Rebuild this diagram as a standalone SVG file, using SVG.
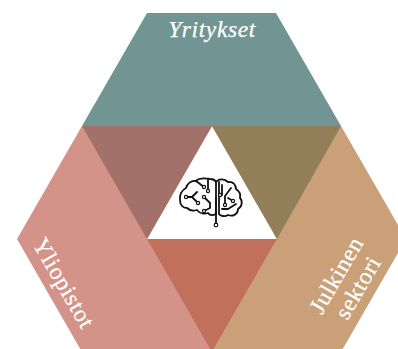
<svg xmlns="http://www.w3.org/2000/svg" width="398" height="349" viewBox="0 0 398 349">
<style>
.lbl{font-family:"Liberation Serif","DejaVu Serif",serif;fill:#fff;stroke:#fff;stroke-width:.25;font-size:23.5px;text-anchor:middle;letter-spacing:.6px}
.b{fill:none;stroke:#111;stroke-width:1.8;stroke-linecap:round;stroke-linejoin:round}
.d{fill:#fff;stroke:#111;stroke-width:1.2}
</style>
<rect width="398" height="349" fill="#fff"/>
<g id="yritykset">
<polygon points="147,13 276,13 341,126 82,126" fill="#709593"/>
</g>
<g id="yliopistot">
<polygon points="82,126 212,126 147,239 277,239 212,352 82,352 17,239" fill="#d39389"/>
</g>
<g id="julkinen-sektori">
<polygon points="212,126 341,126 406,239 341,352 212,352 277,239" fill="#c9a077"/>
</g>
<g id="overlaps">
<polygon points="82,126 212,126 147,239" fill="#a2716a"/>
<polygon points="212,126 341,126 277,239" fill="#927f59"/>
<polygon points="147,239 277,239 212,352" fill="#c1705b"/>
</g>
<g id="labels">
<text class="lbl" x="212" y="37" font-style="italic">Yritykset</text>
<text class="lbl" transform="translate(57,287) rotate(60)">Yliopistot</text>
<text class="lbl" transform="translate(343,279) rotate(-60)"><tspan x="0" y="0">Julkinen</tspan><tspan x="0" y="25">sektori</tspan></text>
</g>
<g id="aivot">
<path class="b" d="M210,179C204,178 199,178 196,181C191,180 187,184 186,188C182,190 179,195 180,200C180,205 183,208 187,208C190,211 194,211 197,210C200,214 205,214 208,213C210,216 214,215 216,214L216,182C215,180 213,179 210,179Z"/>
<path class="b" d="M216,182C219,178 225,179 228,182C233,181 236,185 236,189C239,191 241,194 240,198C243,201 242,207 238,209C238,214 233,217 228,215C225,217 220,216 219,214L219,182"/>
<path class="b" d="M216,224L216,198M186,197L192,197L197,192M192,197L198,203M196,181L204,187M208,180L208,190M210,203L210,208L204,211M204,197L210,203M222,185L222,195M231,188L225,196L225,205M228,198L233,201M236,204L228,209L222,209"/>
<circle class="d" cx="186" cy="197" r="1.6"/><circle class="d" cx="198" cy="203" r="1.6"/><circle class="d" cx="204" cy="187" r="1.6"/><circle class="d" cx="208" cy="191" r="1.6"/><circle class="d" cx="204" cy="211" r="1.6"/><circle class="d" cx="204" cy="197" r="1.6"/><circle class="d" cx="220" cy="195" r="1.6"/><circle class="d" cx="225" cy="205" r="1.6"/><circle class="d" cx="233" cy="201" r="1.6"/><circle class="d" cx="216" cy="225" r="1.8"/>
</g>
</svg>
